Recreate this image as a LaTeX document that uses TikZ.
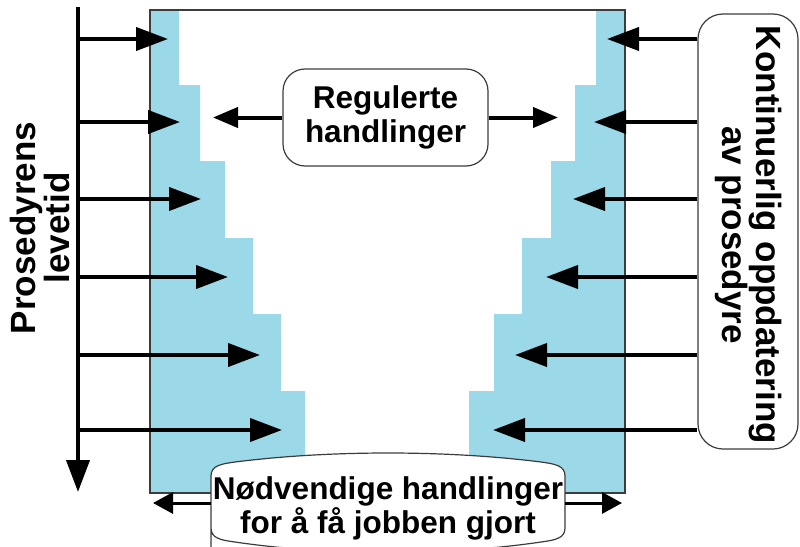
\documentclass[tikz,border=0pt]{standalone}
\usepackage{fontspec}
\setmainfont{Liberation Sans}
\usetikzlibrary{arrows.meta}
\definecolor{stairblue}{RGB}{155,217,233}
\definecolor{frameline}{RGB}{60,60,60}
\begin{document}
\begin{tikzpicture}[x=1pt,y=-1pt,
  lbl/.style={font=\bfseries\fontsize{31.5}{34}\selectfont, align=center, text=black, inner sep=0pt},
  sidelbl/.style={font=\bfseries\fontsize{35}{34}\selectfont, align=center, text=black, inner sep=0pt},
  bigarrow/.style={line width=4pt, -{Triangle[length=32pt,width=23pt]}},
  midarrow/.style={line width=4pt, -{Triangle[length=25pt,width=20pt]}},
  smallarrow/.style={line width=3pt, -{Triangle[length=20pt,width=21pt]}},
  roundbox/.style={draw=frameline, line width=1.2pt, fill=white},
]
\useasboundingbox (0,0) rectangle (800,546);

% staircases of the procedure frame
\fill[stairblue] (150,10) -| (179,85) -| (200,161) -| (225,238) -| (253,314) -| (281,391) -| (305,493) -- (150,493) -- cycle;
\fill[stairblue] (625,10) -| (596,85) -| (575,161) -| (551,238) -| (522,314) -| (494,391) -| (469,493) -- (625,493) -- cycle;
\draw[frameline, line width=1.2pt] (150,10) rectangle (625,493);

% right box: continuous updating
\node[roundbox, rounded corners=25pt, minimum width=100pt, minimum height=435pt] (kont) at (748,231.5) {};
\node[sidelbl, rotate=-90] (konttxt) at (749,235) {Kontinuerlig oppdatering\\av prosedyre};

% lifetime axis
\coordinate (lifetop) at (78,7);
\coordinate (lifeend) at (78,492);
\draw[bigarrow] (lifetop) -- (lifeend);
\node[sidelbl, rotate=90] (lev) at (40,228) {Prosedyrens\\levetid};

% horizontal arrows into the staircases
\foreach \y/\lt/\rt [count=\i] in {39/168/607, 122/180/594, 199/201/573, 277/228/546, 355/260/515, 430/282/493} {
  \coordinate (lin\i) at (78,\y);
  \coordinate (ltip\i) at (\lt,\y);
  \coordinate (rtip\i) at (\rt,\y);
  \draw[bigarrow] (lin\i) -- (ltip\i);
  \draw[bigarrow] (kont.west |- rtip\i) -- (rtip\i);
}

% regulated actions
\node[roundbox, rounded corners=22pt, lbl, minimum width=205pt, minimum height=97pt] (reg) at (385.5,117.5) {Regulerte\\handlinger};
\coordinate (regL) at (213,117.5);
\coordinate (regR) at (558,117.5);
\draw[midarrow] (reg.west) -- (regL);
\draw[midarrow] (reg.east) -- (regR);

% necessary actions
\draw[roundbox] (211,560) -- (211,476) .. controls (211,466) and (220,464) .. (235,462)
  .. controls (330,450) and (446,450) .. (541,462) .. controls (556,464) and (565,466) .. (565,476)
  -- (565,528) .. controls (565,538) and (556,540) .. (541,542) .. controls (446,556) and (330,556) .. (235,542)
  .. controls (220,540) and (211,538) .. (211,528) -- cycle;
\node[lbl, minimum width=354pt] (nod) at (388,508) {Nødvendige handlinger\\for å få jobben gjort};
\coordinate (nodL) at (153,503);
\coordinate (nodR) at (622,503);
\draw[smallarrow] (nodL -| nod.west) -- (nodL);
\draw[smallarrow] (nodR -| nod.east) -- (nodR);
\end{tikzpicture}
\end{document}
